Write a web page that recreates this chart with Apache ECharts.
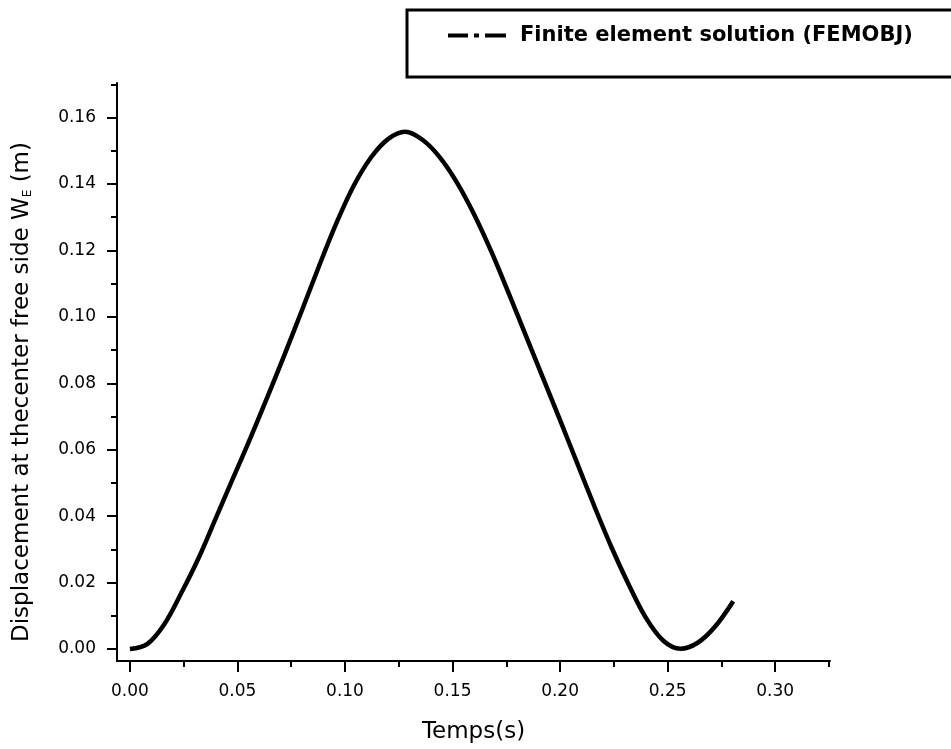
<!DOCTYPE html>
<html lang="en">
  <head>
    <meta charset="UTF-8" />
    <title>Displacement at the center free side</title>
    <script src="https://cdn.jsdelivr.net/npm/echarts@6.0.0/dist/echarts.min.js"></script>
    <style>
      html,
      body {
        margin: 0;
        padding: 0;
        background: #fff;
      }
      #chart {
        width: 951px;
        height: 749px;
      }
    </style>
  </head>
  <body>
    <div id="chart"></div>
    <script>
      // time (s) and displacement W_E (m)
      var timeS = [
        0, 0.008, 0.016, 0.024, 0.032, 0.04, 0.048, 0.056, 0.064, 0.072, 0.08,
        0.088, 0.096, 0.104, 0.112, 0.12, 0.128, 0.136, 0.144, 0.152, 0.16,
        0.168, 0.176, 0.184, 0.192, 0.2, 0.208, 0.216, 0.224, 0.232, 0.24,
        0.248, 0.256, 0.264, 0.272, 0.2805,
      ];
      var dispW = [
        0, 0.0015, 0.0075, 0.017, 0.0275, 0.0395, 0.0515, 0.0635, 0.076,
        0.0888, 0.102, 0.1154, 0.1282, 0.1394, 0.1479, 0.1535, 0.1557, 0.1533,
        0.1481, 0.1405, 0.1309, 0.1197, 0.1073, 0.0945, 0.0817, 0.0689, 0.0559,
        0.0429, 0.0305, 0.0193, 0.0093, 0.0025, 0.0001, 0.0019, 0.0067, 0.0144,
      ];
      var xTicks = [0, 0.05, 0.1, 0.15, 0.2, 0.25, 0.3];
      var xMinorTicks = [0.025, 0.075, 0.125, 0.175, 0.225, 0.275, 0.325];
      var yTicks = [0, 0.02, 0.04, 0.06, 0.08, 0.1, 0.12, 0.14, 0.16];
      var yMinorTicks = [0.01, 0.03, 0.05, 0.07, 0.09, 0.11, 0.13, 0.15, 0.17];
      var seriesName = "Finite element solution (FEMOBJ)";

      var xMin = -0.006,
        xMax = 0.3255,
        yMin = -0.0036,
        yMax = 0.1704;
      var font = "DejaVu Sans";
      var ink = "#000";

      var points = timeS.map(function (t, i) {
        return [t, dispW[i]];
      });

      var mChart = echarts.init(document.getElementById("chart"), null, {
        renderer: "canvas",
      });

      function mainAxis(extra) {
        var ax = {
          type: "value",
          splitLine: { show: false },
          axisLine: { show: true, onZero: false, lineStyle: { color: ink, width: 2 } },
        };
        return Object.assign(ax, extra);
      }

      // second axis on the same side, only for the short minor ticks
      function minorAxis(min, max, pos, values) {
        return {
          type: "value",
          min: min,
          max: max,
          position: pos,
          axisLine: { show: false, onZero: false },
          splitLine: { show: false },
          axisLabel: { show: false },
          axisTick: {
            show: true,
            length: 6,
            lineStyle: { color: ink, width: 2 },
            customValues: values,
          },
        };
      }

      mChart.setOption({
        animation: false,
        backgroundColor: "#fff",
        grid: { left: 117, right: 121, top: 83, bottom: 87 },
        legend: {
          left: 443,
          top: 20,
          itemWidth: 58,
          itemHeight: 4,
          icon: "path://M0,0H20V4H0Z M26,0H31V4H26Z M37,0H58V4H37Z",
          textStyle: {
            fontFamily: font,
            fontWeight: "bold",
            fontSize: 21,
            color: ink,
            padding: [0, 0, 0, 9],
          },
          data: [seriesName],
        },
        graphic: [
          {
            type: "rect",
            shape: { x: 407, y: 10, width: 570, height: 67 },
            style: { fill: "none", stroke: ink, lineWidth: 3 },
            z: 100,
          },
        ],
        xAxis: [
          mainAxis({
            min: xMin,
            max: xMax,
            position: "bottom",
            name: "Temps(s)",
            nameLocation: "middle",
            nameGap: 60,
            nameTextStyle: { fontFamily: font, fontSize: 23, color: ink },
            axisTick: {
              show: true,
              length: 11,
              lineStyle: { color: ink, width: 2 },
              customValues: xTicks,
            },
            axisLabel: {
              margin: 22,
              fontFamily: font,
              fontSize: 17,
              color: ink,
              customValues: xTicks,
              formatter: function (v) {
                return v.toFixed(2);
              },
            },
          }),
          minorAxis(xMin, xMax, "bottom", xMinorTicks),
        ],
        yAxis: [
          mainAxis({
            min: yMin,
            max: yMax,
            position: "left",
            name: "Displacement at thecenter free side W{sub|E} (m)",
            nameLocation: "middle",
            nameRotate: 90,
            nameGap: 83,
            nameTextStyle: {
              fontFamily: font,
              fontSize: 23,
              color: ink,
              padding: [0, 40, 0, 0],
              rich: {
                sub: {
                  fontFamily: font,
                  fontSize: 12,
                  color: ink,
                  padding: [12, 0, 0, 0],
                },
              },
            },
            axisTick: {
              show: true,
              length: 10,
              lineStyle: { color: ink, width: 2 },
              customValues: yTicks,
            },
            axisLabel: {
              margin: 21,
              fontFamily: font,
              fontSize: 17,
              color: ink,
              customValues: yTicks,
              formatter: function (v) {
                return v.toFixed(2);
              },
            },
          }),
          minorAxis(yMin, yMax, "left", yMinorTicks),
        ],
        series: [
          {
            name: seriesName,
            type: "line",
            xAxisIndex: 0,
            yAxisIndex: 0,
            data: points,
            smooth: 0.35,
            showSymbol: false,
            symbol: "none",
            itemStyle: { color: ink },
            lineStyle: { color: ink, width: 4.5 },
          },
        ],
      });
      window.onresize = mChart.resize;
    </script>
  </body>
</html>
